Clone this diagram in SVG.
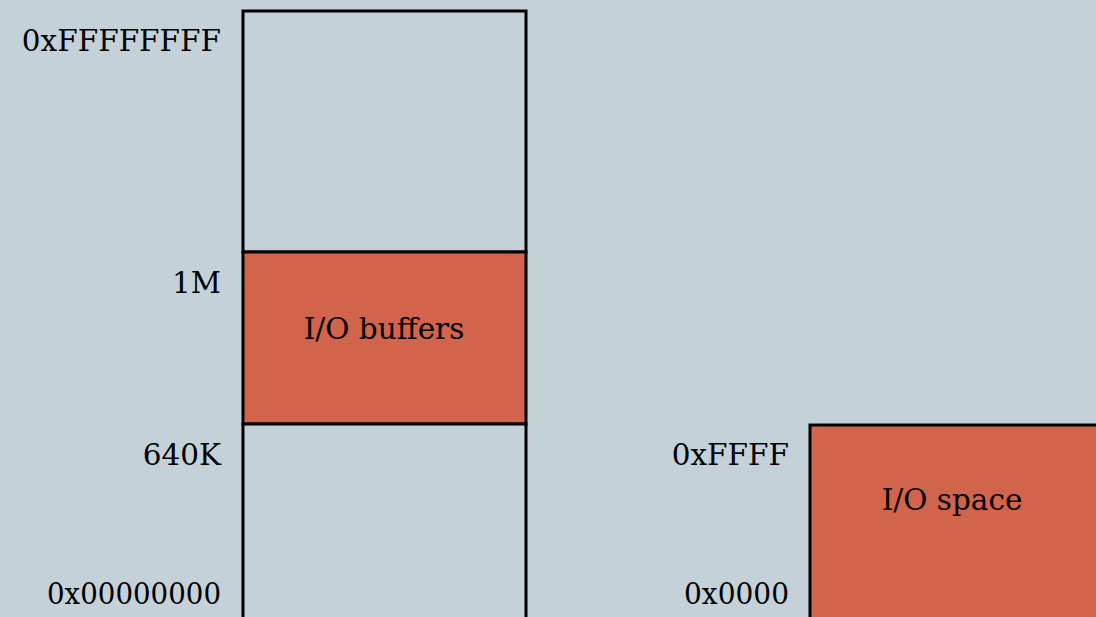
<svg xmlns="http://www.w3.org/2000/svg" width="1096" height="617" viewBox="0 0 1096 617">
<style>
text{font-family:"DejaVu Serif","Liberation Serif",serif;font-size:29.5px;fill:#000}
.l{text-anchor:end}
.c{text-anchor:middle}
.box{stroke:#000;stroke-width:3}
.empty{fill:#c5d1d8}
.io{fill:#d1644a}
</style>
<rect width="1096" height="617" fill="#c5d1d8"/>
<g id="mem-high"><rect class="box empty" x="243" y="11" width="283" height="241"/></g>
<g id="io-buffers"><rect class="box io" x="243" y="252" width="283" height="172"/><text class="c" x="384" y="339">I/O buffers</text></g>
<g id="mem-low"><rect class="box empty" x="243" y="424" width="283" height="200"/></g>
<g id="io-space"><rect class="box io" x="810" y="425" width="300" height="200"/><text class="c" x="952" y="510">I/O space</text></g>
<g id="labels">
<text class="l" x="221" y="51">0xFFFFFFFF</text>
<text class="l" x="221" y="293">1M</text>
<text class="l" x="221" y="465">640K</text>
<text class="l" x="221" y="604" textLength="174" lengthAdjust="spacingAndGlyphs">0x00000000</text>
<text class="l" x="789" y="465">0xFFFF</text>
<text class="l" x="789" y="604" textLength="105" lengthAdjust="spacingAndGlyphs">0x0000</text>
</g>
<g id="connectors"/>
</svg>
